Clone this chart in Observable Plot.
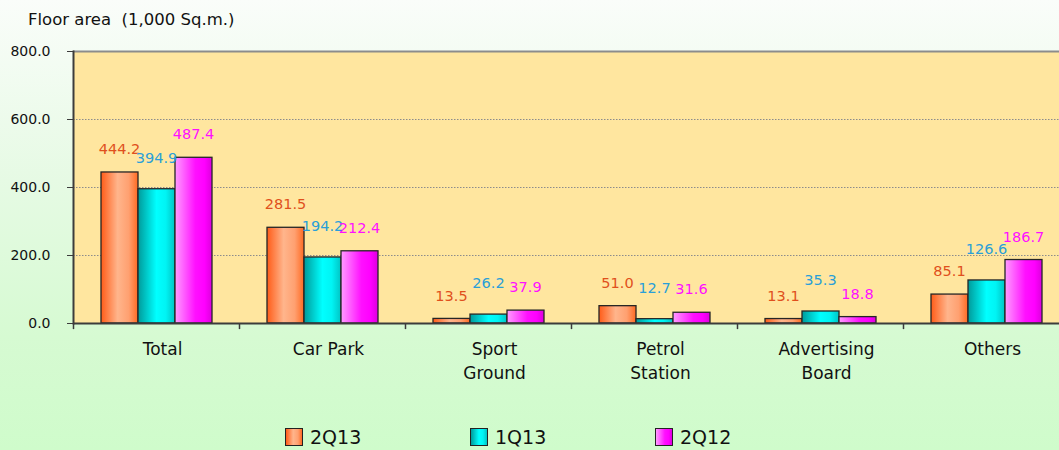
<!DOCTYPE html>
<html>
<head>
<meta charset="utf-8">
<script src="https://cdn.jsdelivr.net/npm/d3@7"></script>
<script src="https://cdn.jsdelivr.net/npm/@observablehq/plot@0.6"></script>
<style>
  html, body { margin: 0; padding: 0; }
  body {
    width: 1059px; height: 450px; overflow: hidden;
    font-family: "DejaVu Sans", sans-serif;
    background: linear-gradient(to bottom, #fafdfa 0%, #e6fae4 40%, #d6fad2 75%, #cffccb 100%);
  }
  #title { height: 40px; line-height: 40px; padding-left: 28px; font-size: 16.5px; color: #111; }
  #legend { position: relative; height: 50px; }
  .item { position: absolute; top: 26px; display: flex; align-items: center; font-size: 19px; color: #111; }
  .sw { width: 16px; height: 16px; border: 1px solid #222; margin-right: 7px; }
</style>
</head>
<body>
<div id="title">Floor area&nbsp;&nbsp;(1,000 Sq.m.)</div>
<div id="chart"></div>
<div id="legend"></div>
<script>
const categories = ["Total", "Car Park", "Sport Ground", "Petrol Station", "Advertising Board", "Others"];
const categoryLabels = ["Total", "Car Park", "Sport\nGround", "Petrol\nStation", "Advertising\nBoard", "Others"];
const seriesNames = ["2Q13", "1Q13", "2Q12"];
const values2Q13 = [444.2, 281.5, 13.5, 51.0, 13.1, 85.1];
const values1Q13 = [394.9, 194.2, 26.2, 12.7, 35.3, 126.6];
const values2Q12 = [487.4, 212.4, 37.9, 31.6, 18.8, 186.7];
const yTicks = [0, 200, 400, 600, 800];

const seriesValues = [values2Q13, values1Q13, values2Q12];
const gradIds = ["gOrange", "gCyan", "gMagenta"];
const gradStops = [
  [["0", "#ff5c18"], ["0.45", "#ffb58c"], ["0.75", "#ffa070"], ["1", "#ff6a22"]],
  [["0", "#009a9a"], ["0.5", "#00ffff"], ["0.75", "#00f4f4"], ["1", "#00c4c4"]],
  [["0", "#ff9cff"], ["0.55", "#ff10ff"], ["0.8", "#ff00ff"], ["1", "#dc00dc"]]
];
const labelColors = ["#e0501c", "#2a9fd8", "#ff10ff"];
const labelDy = [-23, -31, -23];

const rows = seriesValues.map(vals => categories.map((c, i) => ({category: c, value: vals[i]})));

const band = 166;
const pad = 28, bw = 37;
const labelOf = new Map(categories.map((c, i) => [c, categoryLabels[i]]));

const marks = [
  Plot.frame({fill: "#ffe69f", stroke: null}),
  Plot.ruleY([200, 400, 600], {stroke: "#8c8c8c", strokeWidth: 1, strokeDasharray: "1.5,1.5"}),
  Plot.ruleY([800], {stroke: "#8c8c8c", strokeWidth: 2})
];
rows.forEach((data, j) => {
  marks.push(Plot.barY(data, {
    x: "category", y: "value",
    insetLeft: pad + bw * j, insetRight: band - pad - bw * (j + 1),
    fill: `url(#${gradIds[j]})`, stroke: "#262626", strokeWidth: 1.3
  }));
});
rows.forEach((data, j) => {
  marks.push(Plot.text(data, {
    x: "category", y: "value", text: d => d.value.toFixed(1),
    dx: (j - 1) * bw, dy: labelDy[j], fill: labelColors[j], fontSize: 14.5
  }));
});
marks.push(
  Plot.ruleY([0], {stroke: "#3c3c3c", strokeWidth: 2}),
  Plot.frame({anchor: "left", stroke: "#3c3c3c", strokeWidth: 2}),
  Plot.ruleX(categories, {x: d => d, dx: -band / 2, y1: 0, y2: -18, stroke: "#3c3c3c", strokeWidth: 1.5}),
  Plot.axisY({ticks: yTicks, tickFormat: d3.format(".1f"), tickSize: 6, tickPadding: 17, fontSize: 14, label: null, stroke: "#3c3c3c", color: "#111"}),
  Plot.axisX({tickSize: 0, tickPadding: 14, fontSize: 17, lineHeight: 1.42, dx: 6, label: null, tickFormat: d => labelOf.get(d), color: "#111"})
);

const svg = Plot.plot({
  width: 1059, height: 360,
  marginTop: 11, marginBottom: 77, marginLeft: 73, marginRight: 0,
  style: {background: "transparent", fontFamily: "DejaVu Sans, sans-serif", maxWidth: "none"},
  x: {domain: categories, range: [73, 73 + band * categories.length], padding: 0},
  y: {domain: [0, 800]},
  marks
});

const defs = d3.select(svg).insert("defs", ":first-child");
gradIds.forEach((id, j) => {
  const lg = defs.append("linearGradient").attr("id", id).attr("x1", 0).attr("x2", 1).attr("y1", 0).attr("y2", 0);
  gradStops[j].forEach(([o, c]) => lg.append("stop").attr("offset", o).attr("stop-color", c));
});
document.getElementById("chart").append(svg);

const legend = document.getElementById("legend");
const legendX = [285, 470, 655];
seriesNames.forEach((name, j) => {
  const item = document.createElement("div");
  item.className = "item";
  item.style.left = legendX[j] + "px";
  const sw = document.createElement("div");
  sw.className = "sw";
  sw.style.background = `linear-gradient(to right, ${gradStops[j].map(([o, c]) => `${c} ${o * 100}%`).join(", ")})`;
  const t = document.createElement("span");
  t.textContent = name;
  item.append(sw, t);
  legend.append(item);
});
</script>
</body>
</html>
